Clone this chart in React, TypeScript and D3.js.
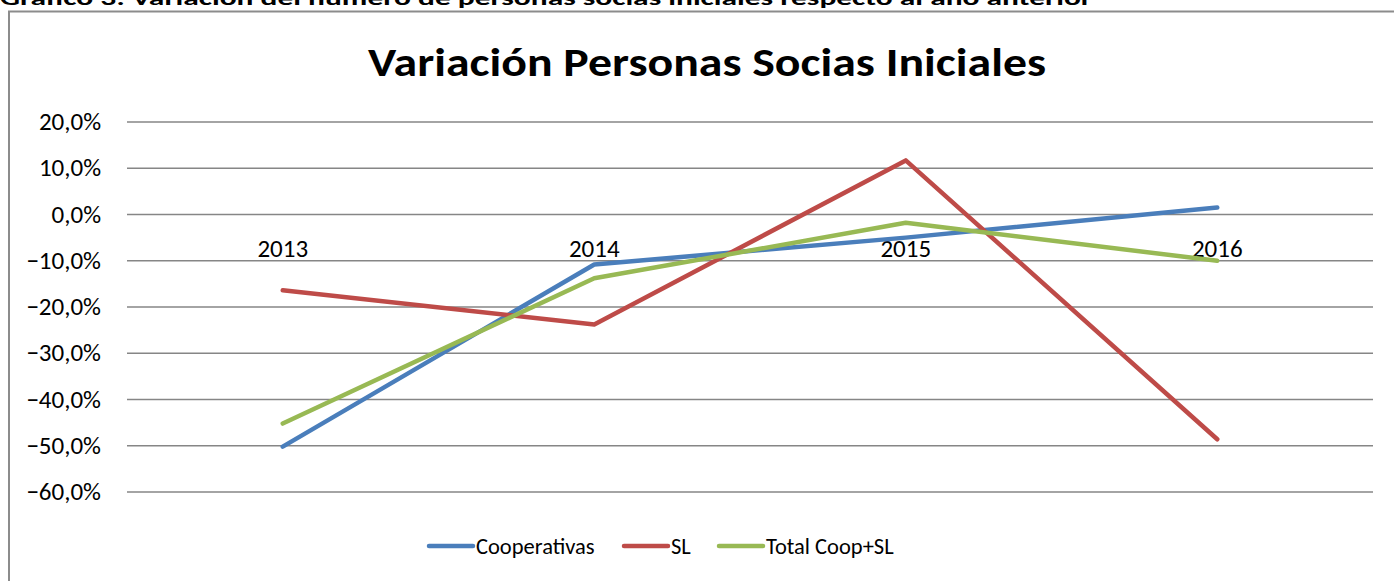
import React, { useEffect, useRef } from "react";
import * as d3 from "d3";

const years = ["2013", "2014", "2015", "2016"];
const cooperativas = [-50.2, -10.8, -5.0, 1.5];
const sl = [-16.4, -23.8, 11.7, -48.6];
const totalCoopSl = [-45.2, -13.8, -1.8, -10.0];
const yTicks = [20, 10, 0, -10, -20, -30, -40, -50, -60];

const series = [
  { name: "Cooperativas", values: cooperativas, color: "#4a7ebb" },
  { name: "SL", values: sl, color: "#be4b48" },
  { name: "Total Coop+SL", values: totalCoopSl, color: "#98b954" },
];

const W = 1394;
const H = 581;
const font = "Carlito, Calibri, 'Open Sans', sans-serif";

const App = () => {
  const ref = useRef<SVGSVGElement | null>(null);

  useEffect(() => {
    const svg = d3.select(ref.current);
    svg.selectAll("*").remove();

    // caption, cut off at the top like in the source page
    svg
      .append("text")
      .attr("x", 0)
      .attr("y", 5)
      .attr("font-family", font)
      .attr("font-weight", "bold")
      .attr("font-size", 21)
      .attr("textLength", 1092)
      .attr("lengthAdjust", "spacingAndGlyphs")
      .text("Gráfico 3: Variación del número de personas socias iniciales respecto al año anterior");

    // chart frame
    svg
      .append("rect")
      .attr("x", 9)
      .attr("y", 11.5)
      .attr("width", W)
      .attr("height", H)
      .attr("fill", "#fff")
      .attr("stroke", "#8c8c8c")
      .attr("stroke-width", 2);

    svg
      .append("text")
      .attr("x", 707)
      .attr("y", 76)
      .attr("text-anchor", "middle")
      .attr("font-family", font)
      .attr("font-weight", "bold")
      .attr("font-size", 40)
      .attr("textLength", 678)
      .attr("lengthAdjust", "spacingAndGlyphs")
      .text("Variación Personas Socias Iniciales");

    const x = d3.scaleBand().domain(years).range([127, 1373]);
    const y = d3.scaleLinear().domain([-60, 20]).range([492, 122]);

    // gridlines
    svg
      .append("g")
      .selectAll("line")
      .data(yTicks)
      .enter()
      .append("line")
      .attr("x1", 127)
      .attr("x2", 1373)
      .attr("y1", (d) => y(d))
      .attr("y2", (d) => y(d))
      .attr("stroke", "#868686")
      .attr("stroke-width", 1.5);

    // y tick labels
    svg
      .append("g")
      .selectAll("text")
      .data(yTicks)
      .enter()
      .append("text")
      .attr("x", 101)
      .attr("y", (d) => y(d) + 8)
      .attr("text-anchor", "end")
      .attr("font-family", font)
      .attr("font-size", 25)
      .text((d) => d3.format(".1f")(d).replace(".", ",") + "%");

    // category labels sit under the 0 line
    svg
      .append("g")
      .selectAll("text")
      .data(years)
      .enter()
      .append("text")
      .attr("x", (d) => x(d)! + x.bandwidth() / 2)
      .attr("y", y(0) + 42)
      .attr("text-anchor", "middle")
      .attr("font-family", font)
      .attr("font-size", 25)
      .text((d) => d);

    const line = d3
      .line<number>()
      .x((d, i) => x(years[i])! + x.bandwidth() / 2)
      .y((d) => y(d));

    svg
      .append("g")
      .selectAll("path")
      .data(series)
      .enter()
      .append("path")
      .attr("d", (d) => line(d.values))
      .attr("fill", "none")
      .attr("stroke", (d) => d.color)
      .attr("stroke-width", 4.5)
      .attr("stroke-linecap", "round")
      .attr("stroke-linejoin", "round");

    // legend
    const legendX = [429, 624, 719];
    const legend = svg
      .append("g")
      .selectAll("g")
      .data(series)
      .enter()
      .append("g")
      .attr("transform", (d, i) => `translate(${legendX[i]}, 546)`);
    legend
      .append("line")
      .attr("x1", 0)
      .attr("x2", 44)
      .attr("stroke", (d) => d.color)
      .attr("stroke-width", 4.5)
      .attr("stroke-linecap", "round");
    legend
      .append("text")
      .attr("x", 47)
      .attr("y", 8)
      .attr("font-family", font)
      .attr("font-size", 22.5)
      .text((d) => d.name);
  }, []);

  return (
    <svg
      ref={ref}
      width={W}
      height={H}
      style={{ position: "absolute", left: 0, top: 0, display: "block" }}
    />
  );
};

export default App;
